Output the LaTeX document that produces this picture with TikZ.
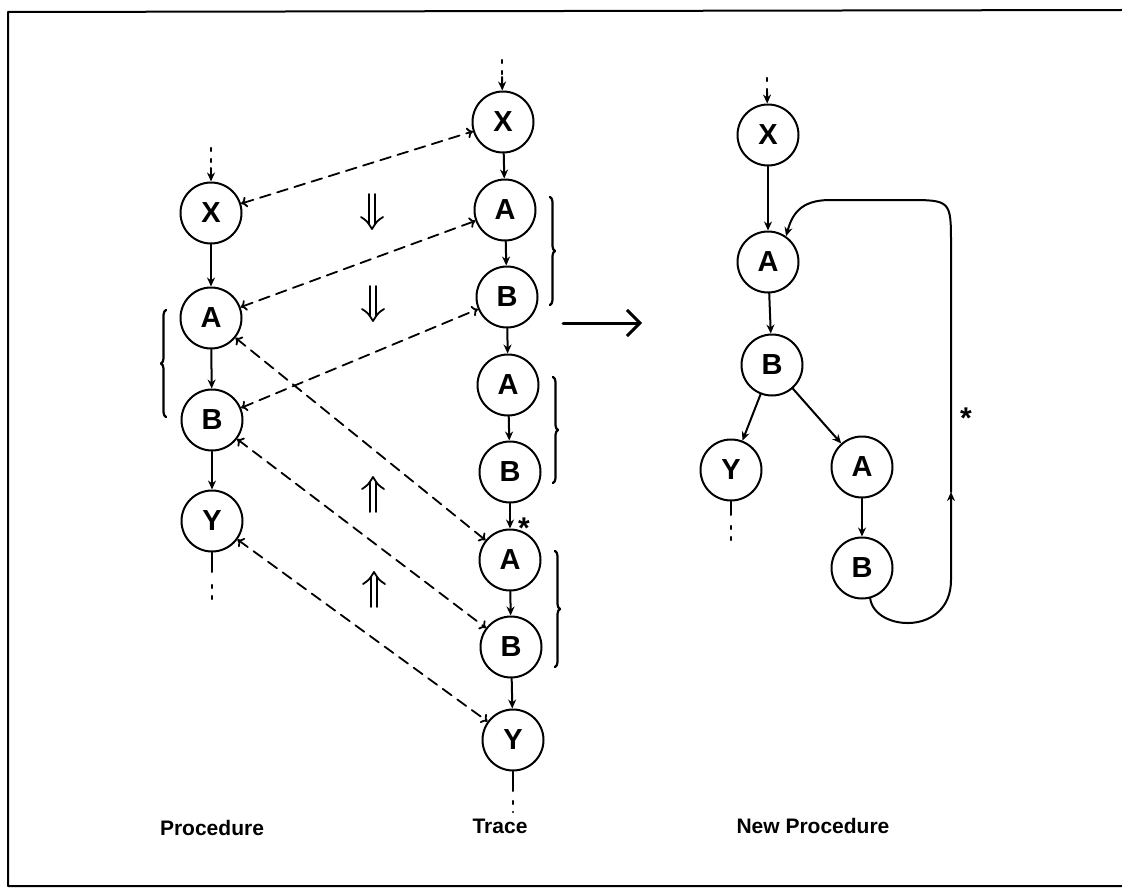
\documentclass[tikz,border=0pt]{standalone}
\usepackage{fontspec}
\setmainfont{Liberation Sans}
\usepackage{tikz}
\usetikzlibrary{arrows.meta,calc,decorations.pathreplacing}

\begin{document}
\begin{tikzpicture}[x=1pt,y=-1pt,>=Stealth,line cap=round,line join=round,
  state/.style={draw,circle,line width=2pt,minimum size=61pt,inner sep=0pt,font=\fontsize{29}{29}\selectfont\bfseries},
  flow/.style={line width=2pt,-{Stealth[length=9pt,width=8pt]}},
  match/.style={line width=1.8pt,dash pattern=on 11pt off 7pt,{To[length=6pt,width=11pt]}-{To[length=6pt,width=11pt]}},
  stub/.style={line width=2.2pt,dash pattern=on 3pt off 8pt},
  grp/.style={line width=2.2pt,decorate,decoration={brace,amplitude=5pt}},
  dbl/.style={line width=1.8pt},
  mark star/.style={font=\fontsize{30}{30}\selectfont\bfseries},
  caption/.style={font=\fontsize{21}{21}\selectfont\bfseries}]
\useasboundingbox (0,0) rectangle (1122,888);
% frame
\draw[line width=2pt] (1122,10) -- (8,12) -- (8,886) -- (1122,886);

% procedure
\node[state] (pX) at (211,213) {X};
\node[state] (pA) at (211,318) {A};
\node[state] (pB) at (212,420) {B};
\node[state] (pY) at (212,521) {Y};
\coordinate (pTop) at (211,148); \coordinate (pIn) at (211,168);
\coordinate (pOut) at (212,572); \coordinate (pEnd) at (212,585);
\draw[stub] (pTop) -- (pIn); \draw[flow] (pIn) -- (pX);
\foreach \a/\b in {pX/pA,pA/pB,pB/pY} \draw[flow] (\a) -- (\b);
\draw[line width=2pt] (pY) -- (pOut); \draw[stub] (pEnd) -- (212,600);
\draw[grp] (166,417) -- (166,310);

% trace
\node[state] (tX) at (503,122) {X};
\node[state] (tA1) at (505,210) {A};
\node[state] (tB1) at (507,297) {B};
\node[state] (tA2) at (508,385) {A};
\node[state] (tB2) at (510,472) {B};
\node[state] (tA3) at (510,560) {A};
\node[state] (tB3) at (511,647) {B};
\node[state] (tY) at (513,740) {Y};
\coordinate (tTop) at (502,60); \coordinate (tIn) at (502,77);
\coordinate (tOut) at (513,791); \coordinate (tEnd) at (513,801);
\draw[stub] (tTop) -- (tIn); \draw[flow] (tIn) -- (tX);
\foreach \a/\b in {tX/tA1,tA1/tB1,tB1/tA2,tA2/tB2,tB2/tA3,tA3/tB3,tB3/tY} \draw[flow] (\a) -- (\b);
\draw[line width=2pt] (tY) -- (tOut); \draw[stub] (tEnd) -- (513,812);
\node[mark star] (tStar) at (524,528) {*};
\draw[grp] (550,197) -- (550,305);
\draw[grp] (553,377) -- (553,483);
\draw[grp] (555,551) -- (555,667);

% matching procedure <-> trace
\foreach \a/\b in {pX/tX,pA/tA1,pB/tB1,pA/tA3,pB/tB3,pY/tY} \draw[match] (\a) -- (\b);
% double arrows (1 = down, -1 = up)
\foreach \x/\y/\d in {372/211/1,373/303/1,373/495/-1,374/590/-1} {
  \draw[dbl] (\x-3,\y-\d*17) -- (\x-3,\y+\d*13);
  \draw[dbl] (\x+3,\y-\d*17) -- (\x+3,\y+\d*13);
  \draw[dbl] (\x-11,\y+\d*6) .. controls (\x-5,\y+\d*10) .. (\x,\y+\d*18) .. controls (\x+5,\y+\d*10) .. (\x+11,\y+\d*6);
}

% transform
\coordinate (gFrom) at (563,323); \coordinate (gTo) at (642,323);
\draw[line width=3pt,-{Straight Barb[length=13pt,width=26pt]}] (gFrom) -- (gTo);

% new procedure
\node[state] (nX) at (768,135) {X};
\node[state] (nA) at (768,262) {A};
\node[state] (nB) at (772,365) {B};
\node[state] (nY) at (731,470) {Y};
\node[state] (nA2) at (862,467) {A};
\node[state] (nB2) at (862,568) {B};
\coordinate (nTop) at (767,78); \coordinate (nIn) at (767,92);
\coordinate (nOut) at (731,515); \coordinate (nEnd) at (731,526);
\draw[stub] (nTop) -- (nIn); \draw[flow] (nIn) -- (nX);
\foreach \a/\b in {nX/nA,nA/nB,nB/nY,nB/nA2,nA2/nB2} \draw[flow] (\a) -- (\b);
\draw[line width=2pt] (nY) -- (nOut); \draw[stub] (nEnd) -- (731,542);
% loop back
\coordinate (loopUp) at (951,492);
\draw[flow] (nB2.-75) .. controls (875,632) and (951,636) .. (951,580) -- (loopUp);
\draw[flow] (loopUp) -- (951,245) .. controls (951,200) .. (906,200) -- (830,200) .. controls (800,200) and (792,215) .. (nA.55);
\node[mark star] (nStar) at (966,418) {*};

% captions
\node[caption] (capP) at (212,828) {Procedure};
\node[caption] (capT) at (500,826) {Trace};
\node[caption] (capN) at (813,826) {New Procedure};
\end{tikzpicture}
\end{document}
